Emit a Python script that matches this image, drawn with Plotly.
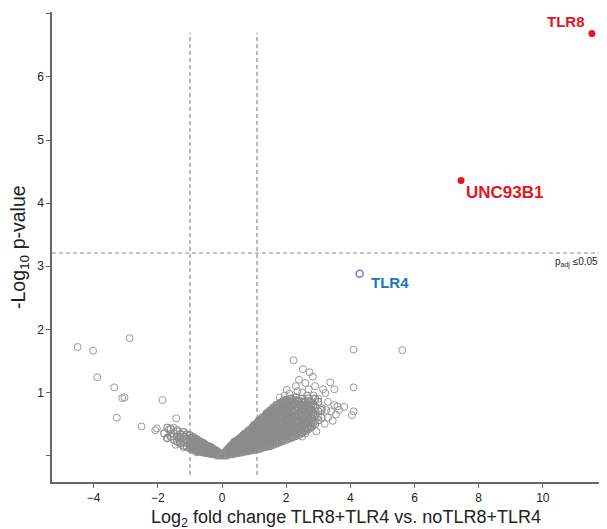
import plotly.graph_objects as go

# ---------------- data ----------------
# Highlighted genes
hl_genes = ["TLR8", "UNC93B1", "TLR4"]
hl_x = [11.53, 7.45, 4.29]
hl_y = [6.69, 4.36, 2.88]

# Thresholds
fc_lo = -1.0
fc_hi = 1.09
p_thr = 3.21

# Sparse background genes (open grey circles)
sparse_x = [-4.50, -4.02, -3.89, -2.88, -3.36, -3.11, -3.04, -3.28, -1.86, -2.51,
            -2.08, -2.03, -1.43, -1.66, -1.51, -1.40, -1.56, -1.71, -1.35, -1.25,
            -1.15, -1.09, -1.30, -1.45, -1.20, -0.98, -0.88, -0.78,
            4.10, 4.10, 4.05, 4.10, 3.81, 2.23, 2.52, 2.73, 2.83, 3.37, 3.50, 3.22,
            2.94, 2.02, 1.80, 3.00, 3.10, 3.30, 3.40, 3.50, 3.60, 3.30, 3.45, 3.20,
            3.00, 2.90, 2.60, 2.70, 2.40, 2.50, 2.30, 3.15, 2.85, 3.55, 2.75, 2.60,
            2.50, 5.62, 2.10, 1.95, 2.35, 3.25, 3.65, 2.65]
sparse_y = [1.72, 1.66, 1.24, 1.86, 1.08, 0.91, 0.92, 0.60, 0.88, 0.46,
            0.40, 0.43, 0.59, 0.41, 0.44, 0.38, 0.30, 0.27, 0.27, 0.33,
            0.30, 0.21, 0.20, 0.17, 0.13, 0.17, 0.10, 0.05,
            1.68, 1.08, 0.64, 0.70, 0.77, 1.51, 1.37, 1.32, 1.25, 1.16, 1.05, 0.99,
            0.38, 1.04, 0.92, 0.90, 0.75, 0.85, 0.70, 0.80, 0.78, 0.60, 0.55, 0.50,
            0.62, 1.10, 1.15, 1.05, 1.20, 1.00, 1.10, 1.05, 0.95, 0.65, 0.45, 0.35,
            0.30, 1.67, 0.98, 0.95, 1.02, 0.72, 0.72, 0.95]

# Dense core of the volcano (log2FC, list of -log10 p values read per column)
core_columns = [
    (-1.8, [0.35]), (-1.7, [0.28, 0.44]), (-1.6, [0.30, 0.42]), (-1.5, [0.25, 0.35]),
    (-1.4, [0.22, 0.30, 0.40]), (-1.3, [0.19, 0.27, 0.34]), (-1.2, [0.16, 0.23, 0.30, 0.37]),
    (-1.1, [0.14, 0.20, 0.26, 0.33]), (-1.0, [0.11, 0.16, 0.22, 0.27, 0.32]),
    (-0.95, [0.12, 0.17, 0.23, 0.28]), (-0.9, [0.09, 0.14, 0.19, 0.24, 0.29]),
    (-0.85, [0.10, 0.15, 0.20, 0.25]), (-0.8, [0.07, 0.12, 0.17, 0.22, 0.26]),
    (-0.75, [0.08, 0.13, 0.17, 0.22]), (-0.7, [0.06, 0.10, 0.15, 0.20, 0.23]),
    (-0.65, [0.07, 0.11, 0.15, 0.19]), (-0.6, [0.05, 0.09, 0.13, 0.17, 0.20]),
    (-0.55, [0.06, 0.10, 0.14, 0.18]), (-0.5, [0.04, 0.08, 0.12, 0.16]),
    (-0.45, [0.05, 0.08, 0.12, 0.15]), (-0.4, [0.03, 0.06, 0.10, 0.14]),
    (-0.35, [0.04, 0.07, 0.10, 0.13]), (-0.3, [0.02, 0.05, 0.08, 0.11]),
    (-0.25, [0.03, 0.06, 0.09]), (-0.2, [0.02, 0.05, 0.08]), (-0.15, [0.00, 0.03, 0.06]),
    (-0.1, [0.01, 0.04]), (-0.05, [0.00, 0.03]),
    (0.05, [0.00, 0.03]), (0.1, [0.01, 0.05]), (0.15, [0.00, 0.04, 0.08]),
    (0.2, [0.02, 0.06, 0.11]), (0.25, [0.03, 0.08, 0.13]), (0.3, [0.02, 0.07, 0.12, 0.16]),
    (0.35, [0.04, 0.09, 0.14, 0.18]), (0.4, [0.03, 0.08, 0.13, 0.19, 0.22]),
    (0.45, [0.05, 0.10, 0.16, 0.21]), (0.5, [0.04, 0.09, 0.15, 0.20, 0.25]),
    (0.55, [0.06, 0.12, 0.18, 0.24, 0.27]), (0.6, [0.05, 0.10, 0.16, 0.22, 0.28]),
    (0.65, [0.07, 0.13, 0.19, 0.25, 0.31]), (0.7, [0.06, 0.12, 0.18, 0.24, 0.30, 0.34]),
    (0.75, [0.08, 0.14, 0.20, 0.27, 0.33]), (0.8, [0.07, 0.13, 0.19, 0.26, 0.32, 0.38]),
    (0.85, [0.09, 0.16, 0.22, 0.29, 0.36, 0.40]), (0.9, [0.08, 0.15, 0.21, 0.28, 0.34, 0.41]),
    (0.95, [0.10, 0.17, 0.24, 0.31, 0.38, 0.44]),
    (1.0, [0.09, 0.16, 0.23, 0.30, 0.37, 0.44, 0.48]),
    (1.05, [0.11, 0.18, 0.25, 0.33, 0.40, 0.47]),
    (1.1, [0.10, 0.17, 0.24, 0.31, 0.39, 0.46, 0.52]),
    (1.15, [0.12, 0.20, 0.27, 0.35, 0.42, 0.50, 0.55]),
    (1.2, [0.11, 0.19, 0.26, 0.34, 0.41, 0.49, 0.56]),
    (1.25, [0.14, 0.21, 0.29, 0.37, 0.45, 0.53, 0.60]),
    (1.3, [0.13, 0.20, 0.28, 0.36, 0.44, 0.52, 0.59]),
    (1.35, [0.15, 0.23, 0.31, 0.39, 0.47, 0.55, 0.63]),
    (1.4, [0.14, 0.22, 0.30, 0.38, 0.46, 0.54, 0.62, 0.67]),
    (1.45, [0.16, 0.25, 0.33, 0.41, 0.50, 0.58, 0.66]),
    (1.5, [0.15, 0.24, 0.32, 0.40, 0.49, 0.57, 0.65, 0.71]),
    (1.55, [0.18, 0.27, 0.35, 0.44, 0.53, 0.61, 0.70]),
    (1.6, [0.17, 0.26, 0.34, 0.43, 0.52, 0.60, 0.69, 0.76]),
    (1.65, [0.20, 0.29, 0.38, 0.47, 0.56, 0.65, 0.73]),
    (1.7, [0.19, 0.28, 0.37, 0.46, 0.55, 0.64, 0.72, 0.80]),
    (1.75, [0.22, 0.31, 0.40, 0.50, 0.59, 0.68, 0.77]),
    (1.8, [0.21, 0.30, 0.39, 0.49, 0.58, 0.67, 0.76, 0.83]),
    (1.85, [0.24, 0.33, 0.43, 0.52, 0.62, 0.71, 0.80]),
    (1.9, [0.23, 0.32, 0.42, 0.51, 0.61, 0.70, 0.79, 0.86]),
    (1.95, [0.26, 0.36, 0.45, 0.55, 0.64, 0.74, 0.83]),
    (2.0, [0.25, 0.35, 0.44, 0.54, 0.63, 0.73, 0.82, 0.88]),
    (2.05, [0.28, 0.38, 0.48, 0.58, 0.68, 0.77, 0.86]),
    (2.1, [0.27, 0.37, 0.47, 0.57, 0.67, 0.76, 0.85]),
    (2.15, [0.30, 0.40, 0.50, 0.60, 0.70, 0.80, 0.90]),
    (2.2, [0.29, 0.39, 0.49, 0.59, 0.69, 0.79, 0.88]),
    (2.25, [0.32, 0.43, 0.53, 0.63, 0.73, 0.83]),
    (2.3, [0.31, 0.41, 0.52, 0.62, 0.72, 0.82, 0.92]),
    (2.35, [0.34, 0.45, 0.56, 0.66, 0.77, 0.87]),
    (2.4, [0.33, 0.44, 0.55, 0.65, 0.76, 0.86]),
    (2.45, [0.37, 0.48, 0.59, 0.70, 0.81]),
    (2.5, [0.36, 0.47, 0.58, 0.69, 0.80, 0.90]),
    (2.55, [0.40, 0.52, 0.63, 0.74, 0.85]),
    (2.6, [0.39, 0.50, 0.62, 0.73, 0.84]),
    (2.65, [0.43, 0.56, 0.68, 0.80]),
    (2.7, [0.42, 0.55, 0.67, 0.79, 0.90]),
    (2.75, [0.47, 0.60, 0.73, 0.85]),
    (2.8, [0.46, 0.58, 0.71, 0.83]),
    (2.85, [0.52, 0.66, 0.80]),
    (2.9, [0.50, 0.64, 0.77, 0.90]),
    (3.0, [0.56, 0.70, 0.85]),
    (3.1, [0.60, 0.72]),
]

# Second, interleaved reading of the dense core (fills the solid grey body)
core_columns_b = [
    (-0.925, [0.11, 0.165, 0.215, 0.26]), (-0.825, [0.095, 0.145, 0.195, 0.235]),
    (-0.725, [0.08, 0.125, 0.175, 0.21]), (-0.625, [0.07, 0.11, 0.15, 0.185]),
    (-0.525, [0.06, 0.10, 0.14]), (-0.425, [0.045, 0.08, 0.12]),
    (-0.325, [0.035, 0.065, 0.095]), (-0.225, [0.035, 0.07]),
    (0.275, [0.05, 0.10, 0.145]), (0.375, [0.06, 0.11, 0.165, 0.20]),
    (0.475, [0.07, 0.13, 0.185, 0.23]), (0.575, [0.08, 0.14, 0.20, 0.26]),
    (0.675, [0.09, 0.155, 0.215, 0.275, 0.32]), (0.775, [0.105, 0.17, 0.235, 0.30, 0.35]),
    (0.875, [0.12, 0.19, 0.255, 0.32, 0.385]), (0.975, [0.13, 0.20, 0.27, 0.34, 0.41, 0.46]),
    (1.075, [0.14, 0.21, 0.285, 0.36, 0.43, 0.50]),
    (1.175, [0.155, 0.23, 0.305, 0.38, 0.455, 0.53]),
    (1.275, [0.17, 0.25, 0.325, 0.405, 0.485, 0.565]),
    (1.375, [0.185, 0.27, 0.35, 0.43, 0.51, 0.59, 0.65]),
    (1.475, [0.20, 0.285, 0.37, 0.455, 0.54, 0.62, 0.69]),
    (1.575, [0.215, 0.30, 0.39, 0.48, 0.565, 0.65, 0.73]),
    (1.675, [0.235, 0.325, 0.415, 0.505, 0.595, 0.685, 0.77]),
    (1.775, [0.255, 0.345, 0.44, 0.535, 0.625, 0.72, 0.80]),
    (1.875, [0.275, 0.37, 0.465, 0.565, 0.66, 0.755, 0.84]),
    (1.975, [0.30, 0.40, 0.495, 0.595, 0.69, 0.785, 0.87]),
    (2.075, [0.32, 0.42, 0.52, 0.62, 0.72, 0.815]),
    (2.175, [0.345, 0.445, 0.545, 0.645, 0.745, 0.845]),
    (2.275, [0.365, 0.47, 0.575, 0.675, 0.78, 0.875]),
    (2.375, [0.39, 0.50, 0.605, 0.71, 0.815]),
    (2.475, [0.415, 0.525, 0.635, 0.745, 0.855]),
    (2.575, [0.445, 0.56, 0.675, 0.79]),
    (2.675, [0.48, 0.61, 0.74, 0.86]),
    (2.775, [0.52, 0.65, 0.78]),
]

x_ticks = [-4, -2, 0, 2, 4, 6, 8, 10, 12]
y_ticks = [0, 1, 2, 3, 4, 5, 6, 7]
y_tick_text = ["", "1", "2", "3", "4", "5", "6", "7"]

# ---------------- build ----------------
core_x, core_y = [], []
for cx, ys in core_columns + core_columns_b:
    for cy in ys:
        core_x.append(cx)
        core_y.append(cy)

GREY = "#8c8c8c"
RED = "#e3151e"
BLUE = "#1b75bc"
FONT = "Liberation Sans, Arial, sans-serif"

fig = go.Figure()
fig.add_trace(go.Scatter(
    x=sparse_x, y=sparse_y, mode="markers",
    marker=dict(symbol="circle-open", size=7, color="#999999", line=dict(width=1)),
    hoverinfo="skip", showlegend=False))
fig.add_trace(go.Scatter(
    x=core_x, y=core_y, mode="markers",
    marker=dict(symbol="circle-open", size=7, color=GREY, line=dict(width=1.2)),
    hoverinfo="skip", showlegend=False))

fig.add_trace(go.Scatter(
    x=hl_x[:2], y=hl_y[:2], mode="markers",
    marker=dict(symbol="circle", size=7, color=RED),
    showlegend=False))
fig.add_trace(go.Scatter(
    x=hl_x[2:], y=hl_y[2:], mode="markers",
    marker=dict(symbol="circle-open", size=7, color="#7b7fd6", line=dict(width=1.5)),
    showlegend=False))

dash_style = dict(color="#8a8a8a", width=1.2, dash="4px,3px")
shapes = [
    dict(type="line", xref="x", yref="y", x0=fc_lo, x1=fc_lo, y0=-0.31, y1=6.70, line=dash_style),
    dict(type="line", xref="x", yref="y", x0=fc_hi, x1=fc_hi, y0=-0.31, y1=6.70, line=dash_style),
    dict(type="line", xref="paper", yref="y", x0=0, x1=1, y0=p_thr, y1=p_thr, line=dash_style),
]

annotations = [
    dict(x=hl_x[0], y=hl_y[0], xref="x", yref="y", text="<b>TLR8</b>", showarrow=False,
         xanchor="right", yanchor="middle", xshift=-5, yshift=12,
         font=dict(family=FONT, size=15, color=RED)),
    dict(x=hl_x[1], y=hl_y[1], xref="x", yref="y", text="<b>UNC93B1</b>", showarrow=False,
         xanchor="left", yanchor="middle", xshift=3, yshift=-12,
         font=dict(family=FONT, size=17, color=RED)),
    dict(x=hl_x[2], y=hl_y[2], xref="x", yref="y", text="<b>TLR4</b>", showarrow=False,
         xanchor="left", yanchor="middle", xshift=9, yshift=-9,
         font=dict(family=FONT, size=15, color=BLUE)),
    dict(x=1, y=p_thr, xref="paper", yref="y", text="p<sub>adj</sub> ≤0.05", showarrow=False,
         xanchor="right", yanchor="middle", xshift=-7, yshift=-10,
         font=dict(family=FONT, size=10, color="#222222")),
    dict(x=0.529, y=0, xref="paper", yref="paper",
         text="Log<sub>2</sub> fold change TLR8+TLR4 vs. noTLR8+TLR4", showarrow=False,
         xanchor="center", yanchor="middle", yshift=-36,
         font=dict(family=FONT, size=18, color="#222222")),
    dict(x=0, y=0.5, xref="paper", yref="paper", text="-Log<sub>10</sub> p-value",
         showarrow=False, textangle=-90, xanchor="center", yanchor="middle", xshift=-33,
         font=dict(family=FONT, size=19.5, color="#222222")),
]

# The page body adds an 8px offset, so the figure is 8px smaller and margins shifted.
fig.update_layout(
    width=599, height=521,
    margin=dict(l=44, r=0, t=4, b=47),
    paper_bgcolor="white", plot_bgcolor="white",
    shapes=shapes, annotations=annotations,
    font=dict(family=FONT, size=12, color="#222222"),
    showlegend=False,
)
fig.update_xaxes(range=[-5.3, 12.0], tickvals=x_ticks, showgrid=False, zeroline=False,
                 showline=True, linecolor="#666666", linewidth=1.5,
                 ticks="outside", ticklen=4, tickcolor="#666666",
                 tickfont=dict(family=FONT, size=12, color="#222222"))
fig.update_yaxes(range=[-0.42, 7.03], tickvals=y_ticks, ticktext=y_tick_text,
                 showgrid=False, zeroline=False,
                 showline=True, linecolor="#666666", linewidth=1.5,
                 ticks="outside", ticklen=4, tickcolor="#666666",
                 tickfont=dict(family=FONT, size=12, color="#222222"))

fig.write_html("out.html")
